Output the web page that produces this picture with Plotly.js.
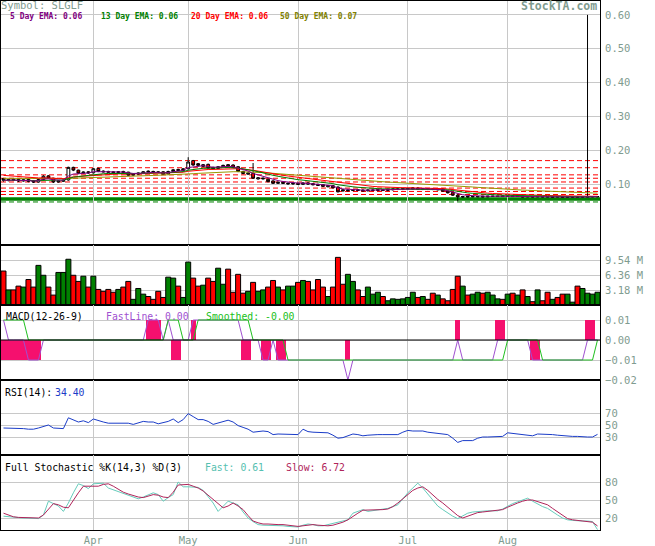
<!DOCTYPE html>
<html><head><meta charset="utf-8">
<script src="https://cdn.plot.ly/plotly-3.0.1.min.js"></script>
<style>body{margin:0;background:#fff}#chart{width:655px;height:546px}</style>
</head><body><div id="chart"></div>
<script>
// ---------- data ----------
const tickPos = [18, 37, 59, 81, 101];
const tickLabels = ['Apr', 'May', 'Jun', 'Jul', 'Aug'];

const open = [.117,.111,.115,.114,.110,.114,.110,.107,.114,.125,
 .118,.107,.109,.113,.150,.142,.133,.137,.134,.147,
 .139,.138,.137,.135,.138,.136,.127,.130,.133,.139,
 .138,.137,.137,.131,.138,.144,.141,.146,.170,.161,
 .153,.159,.150,.147,.152,.158,.157,.152,.138,.130,
 .132,.116,.116,.115,.110,.103,.106,.101,.101,.103,
 .100,.104,.102,.100,.099,.093,.096,.092,.084,.081,
 .082,.084,.083,.081,.082,.082,.084,.082,.084,.085,
 .085,.086,.086,.089,.085,.087,.086,.084,.086,.080,
 .076,.068,.062,.065,.063,.063,.065,.063,.064,.064,
 .066,.064,.066,.064,.065,.063,.064,.063,.064,.064,
 .062,.064,.064,.062,.062,.064,.062,.062,.063,.063];
const high = [.119,.116,.117,.116,.115,.116,.112,.116,.127,.127,
 .119,.112,.114,.152,.152,.143,.138,.139,.148,.149,
 .141,.140,.139,.139,.140,.137,.132,.135,.139,.141,
 .140,.139,.139,.140,.145,.146,.148,.180,.172,.163,
 .160,.161,.152,.154,.158,.160,.159,.154,.140,.135,
 .163,.121,.120,.117,.112,.108,.108,.105,.105,.105,
 .106,.106,.104,.102,.101,.098,.098,.094,.086,.085,
 .086,.086,.085,.085,.085,.086,.086,.087,.088,.088,
 .089,.090,.091,.091,.089,.089,.088,.088,.088,.082,
 .078,.070,.066,.066,.065,.065,.066,.066,.066,.066,
 .067,.066,.067,.066,.066,.065,.065,.065,.065,.065,
 .064,.065,.065,.064,.064,.065,.064,.600,.065,.065];
const low = [.108,.109,.110,.107,.108,.106,.104,.105,.112,.116,
 .104,.105,.107,.111,.139,.130,.131,.131,.132,.136,
 .135,.134,.133,.133,.133,.125,.125,.128,.131,.135,
 .134,.133,.128,.129,.136,.139,.139,.144,.155,.153,
 .151,.146,.144,.145,.150,.152,.148,.136,.130,.128,
 .116,.114,.114,.106,.101,.101,.101,.099,.099,.098,
 .098,.099,.097,.095,.092,.091,.088,.076,.079,.079,
 .080,.080,.079,.079,.080,.080,.080,.080,.082,.083,
 .083,.084,.084,.084,.083,.083,.083,.082,.078,.073,
 .066,.050,.060,.061,.062,.062,.062,.062,.063,.063,
 .063,.063,.063,.063,.062,.062,.062,.062,.062,.062,
 .061,.062,.061,.061,.061,.061,.061,.061,.062,.062];
const close = [.112,.114,.112,.110,.113,.109,.107,.114,.124,.118,
 .107,.110,.112,.150,.142,.133,.136,.134,.146,.138,
 .137,.136,.135,.137,.135,.127,.130,.133,.137,.137,
 .136,.135,.130,.138,.143,.141,.146,.166,.157,.156,
 .158,.148,.146,.152,.156,.154,.150,.138,.132,.133,
 .118,.119,.118,.108,.103,.106,.103,.103,.103,.100,
 .104,.101,.099,.097,.094,.096,.090,.078,.081,.083,
 .084,.082,.081,.083,.083,.084,.082,.085,.086,.086,
 .087,.088,.089,.086,.087,.085,.085,.086,.080,.075,
 .068,.063,.064,.063,.064,.064,.063,.065,.065,.065,
 .064,.065,.064,.065,.063,.064,.063,.064,.063,.063,
 .063,.063,.062,.063,.063,.062,.063,.064,.064,.064];

const ema5 = [.1120,.1127,.1125,.1117,.1121,.1111,.1097,.1111,.1154,.1163,
 .1132,.1121,.1121,.1247,.1305,.1313,.1329,.1333,.1375,.1377,
 .1375,.1370,.1363,.1365,.1360,.1330,.1320,.1323,.1339,.1349,
 .1353,.1352,.1335,.1350,.1377,.1388,.1412,.1495,.1520,.1533,
 .1549,.1526,.1504,.1509,.1526,.1531,.1521,.1474,.1423,.1392,
 .1321,.1277,.1245,.1190,.1137,.1111,.1084,.1066,.1054,.1036,
 .1037,.1028,.1015,.1000,.0980,.0973,.0949,.0893,.0865,.0853,
 .0849,.0839,.0829,.0829,.0829,.0833,.0829,.0836,.0844,.0849,
 .0856,.0864,.0873,.0869,.0869,.0863,.0859,.0859,.0839,.0809,
 .0766,.0721,.0694,.0673,.0662,.0655,.0647,.0648,.0649,.0649,
 .0646,.0647,.0645,.0647,.0641,.0641,.0637,.0638,.0635,.0633,
 .0632,.0631,.0628,.0629,.0629,.0626,.0627,.0631,.0634,.0636];
const ema13 = [.1120,.1123,.1123,.1120,.1121,.1117,.1110,.1114,.1132,.1139,
 .1129,.1125,.1124,.1178,.1213,.1230,.1249,.1262,.1290,.1303,
 .1313,.1320,.1324,.1331,.1334,.1325,.1321,.1322,.1329,.1335,
 .1339,.1341,.1335,.1341,.1354,.1362,.1376,.1417,.1439,.1456,
 .1474,.1475,.1473,.1480,.1491,.1498,.1498,.1481,.1458,.1440,
 .1403,.1373,.1345,.1307,.1267,.1237,.1207,.1182,.1160,.1137,
 .1123,.1107,.1090,.1073,.1054,.1041,.1021,.0987,.0962,.0943,
 .0928,.0913,.0898,.0888,.0880,.0874,.0866,.0864,.0863,.0863,
 .0864,.0866,.0869,.0868,.0868,.0865,.0863,.0863,.0854,.0839,
 .0816,.0789,.0768,.0748,.0733,.0720,.0707,.0699,.0692,.0686,
 .0679,.0675,.0670,.0667,.0662,.0659,.0655,.0653,.0650,.0647,
 .0645,.0643,.0640,.0639,.0638,.0635,.0634,.0635,.0636,.0636];
const ema20 = [.1265,.1253,.1240,.1227,.1218,.1206,.1193,.1188,.1193,.1192,
 .1180,.1172,.1167,.1199,.1220,.1230,.1242,.1251,.1271,.1281,
 .1289,.1296,.1301,.1308,.1312,.1308,.1307,.1309,.1315,.1320,
 .1324,.1326,.1324,.1329,.1339,.1346,.1357,.1386,.1404,.1419,
 .1434,.1438,.1440,.1448,.1459,.1467,.1470,.1461,.1448,.1437,
 .1413,.1392,.1372,.1344,.1314,.1290,.1265,.1243,.1223,.1202,
 .1187,.1170,.1153,.1136,.1117,.1102,.1083,.1054,.1031,.1012,
 .0996,.0979,.0963,.0950,.0939,.0930,.0920,.0913,.0908,.0903,
 .0900,.0898,.0897,.0893,.0891,.0887,.0883,.0881,.0873,.0861,
 .0844,.0824,.0806,.0789,.0775,.0762,.0749,.0740,.0731,.0723,
 .0715,.0709,.0702,.0697,.0691,.0686,.0681,.0677,.0673,.0669,
 .0665,.0662,.0658,.0655,.0653,.0650,.0648,.0647,.0646,.0646];
const ema50 = [.1178,.1177,.1175,.1172,.1170,.1167,.1163,.1162,.1165,.1166,
 .1162,.1160,.1158,.1171,.1181,.1187,.1194,.1200,.1210,.1217,
 .1223,.1228,.1233,.1238,.1242,.1243,.1245,.1248,.1253,.1258,
 .1262,.1266,.1267,.1271,.1277,.1282,.1289,.1304,.1314,.1324,
 .1334,.1340,.1345,.1352,.1360,.1367,.1372,.1372,.1370,.1368,
 .1361,.1354,.1347,.1336,.1324,.1314,.1303,.1292,.1282,.1271,
 .1262,.1252,.1242,.1231,.1220,.1210,.1198,.1182,.1167,.1154,
 .1142,.1129,.1117,.1106,.1095,.1085,.1075,.1066,.1058,.1050,
 .1043,.1037,.1031,.1024,.1018,.1011,.1005,.0999,.0991,.0982,
 .0970,.0957,.0945,.0933,.0922,.0911,.0900,.0890,.0881,.0872,
 .0863,.0855,.0847,.0839,.0831,.0824,.0816,.0809,.0802,.0795,
 .0789,.0783,.0777,.0771,.0765,.0759,.0754,.0750,.0746,.0742];

const redDashLevels = [0.170, 0.149, 0.128, 0.118, 0.107, 0.089, 0.079, 0.070];
const greenSolidLevel = 0.057;
const greenDashLevel = 0.048;

// volume in millions
const volumeM = [7.2,3.2,3.2,4.0,3.8,5.4,3.8,8.4,6.3,3.8,
 2.1,6.9,6.9,9.7,6.3,5.0,6.1,3.8,6.1,3.3,
 2.9,3.3,2.7,3.3,3.8,5.0,1.2,3.5,2.3,1.8,
 1.2,2.9,1.6,5.9,5.7,4.0,1.6,9.1,5.7,4.0,
 4.2,5.7,5.0,7.8,4.4,7.6,2.7,6.5,2.5,2.9,
 4.8,2.9,3.2,3.8,5.2,3.8,3.2,4.0,4.0,4.8,
 5.2,5.0,3.2,5.4,3.8,1.8,3.8,10.1,4.4,6.5,
 5.0,3.2,1.8,3.8,2.3,2.7,1.8,0.9,1.3,1.2,
 1.3,1.6,2.7,1.6,1.8,1.2,2.5,2.1,1.3,0.9,
 3.3,6.1,4.0,2.1,2.3,2.7,2.5,2.7,2.1,1.3,
 1.2,2.3,2.5,2.1,3.2,1.8,0.7,3.2,0.9,2.7,
 1.2,1.6,2.3,2.3,0.6,4.0,3.5,2.5,2.3,2.7];
const volTicks = [3.18, 6.36, 9.54];
const volTickText = ['3.18 M', '6.36 M', '9.54 M'];

const macdFast = [.01,0,0,0,0,-.01,-.01,-.01,0,0,
 0,0,0,0,0,0,0,0,0,0,
 0,0,0,0,0,0,0,0,0,.01,
 .01,.01,0,.01,0,0,0,0,.01,.01,
 .01,.01,.01,.01,.01,.01,.01,.01,0,0,
 0,0,-.01,-.01,0,-.01,-.01,-.01,-.01,-.01,
 -.01,-.01,-.01,-.01,-.01,-.01,-.01,-.01,-.01,-.02,
 -.01,-.01,-.01,-.01,-.01,-.01,-.01,-.01,-.01,-.01,
 -.01,-.01,-.01,-.01,-.01,-.01,-.01,-.01,-.01,-.01,
 -.01,0,-.01,-.01,-.01,-.01,-.01,-.01,-.01,0,
 0,0,0,0,0,0,-.01,-.01,-.01,-.01,
 -.01,-.01,-.01,-.01,-.01,-.01,-.01,0,0,0];
const macdSmooth = [.01,.01,.01,.01,.01,0,0,0,0,0,
 0,0,0,0,0,0,0,0,0,0,
 0,0,0,0,0,0,0,0,0,0,
 0,0,0,.01,.01,.01,0,0,0,.01,
 .01,.01,.01,.01,.01,.01,.01,.01,.01,.01,
 0,0,0,0,0,0,0,-.01,-.01,-.01,
 -.01,-.01,-.01,-.01,-.01,-.01,-.01,-.01,-.01,-.01,
 -.01,-.01,-.01,-.01,-.01,-.01,-.01,-.01,-.01,-.01,
 -.01,-.01,-.01,-.01,-.01,-.01,-.01,-.01,-.01,-.01,
 -.01,-.01,-.01,-.01,-.01,-.01,-.01,-.01,-.01,-.01,
 -.01,0,0,0,0,0,0,0,-.01,-.01,
 -.01,-.01,-.01,-.01,-.01,-.01,-.01,-.01,-.01,0];
const macdHist = [-.01,-.01,-.01,-.01,-.01,-.01,-.01,-.01,0,0,
 0,0,0,0,0,0,0,0,0,0,
 0,0,0,0,0,0,0,0,0,.01,
 .01,.01,0,0,-.01,-.01,0,0,.01,0,
 0,0,0,0,0,0,0,0,-.01,-.01,
 0,0,-.01,-.01,0,-.01,-.01,0,0,0,
 0,0,0,0,0,0,0,0,0,-.01,
 0,0,0,0,0,0,0,0,0,0,
 0,0,0,0,0,0,0,0,0,0,
 0,.01,0,0,0,0,0,0,0,.01,
 .01,0,0,0,0,0,-.01,-.01,0,0,
 0,0,0,0,0,0,0,.01,.01,0];

const rsi = [45,45,45,44,44,43,43,45,48,50,
 45,44,44,62,58,55,57,54,60,57,
 55,53,53,53,54,53,51,53,56,55,
 55,52,54,56,60,54,59,69,64,59,
 59,56,51,53,55,58,55,49,46,43,
 38,39,40,39,34,35,35,35,34,34,
 43,39,38,38,37,37,33,28,29,32,
 35,34,32,33,34,34,34,34,34,34,
 38,41,40,40,40,38,37,36,35,34,
 28,21,24,24,24,28,30,30,30,31,
 31,37,36,36,35,33,32,35,35,34,
 34,33,32,31,31,31,30,30,30,34.4];

const stochK = [23,22,21,20,20,20,19,19,25,48,
 44,40,31,45,62,77,74,69,77,78,
 78,70,67,64,62,59,55,52,55,59,
 62,59,48,54,59,80,72,72,72,71,
 66,55,45,31,40,48,45,42,30,20,
 14,9,8,8,7,7,7,6,6,5,
 8,10,9,7,7,9,10,12,14,17,
 28,31,34,31,32,33,34,36,39,42,
 52,62,70,78,70,60,50,40,34,28,
 23,19,24,28,30,31,31,32,32,32,
 35,40,44,47,50,53,48,43,39,36,
 30,25,20,17,16,15,15,15,14,0.61];
const stochD = [28,25,22,21,21,20,20,20,25,35,
 44,42,38,37,50,62,73,73,73,73,
 76,77,73,68,63,60,57,55,54,56,
 59,58,55,54,63,75,75,76,73,70,
 65,58,51,43,37,40,45,40,34,24,
 15,12,10,10,9,9,9,8,7,6,
 7,8,9,8,7,7,8,10,13,17,
 23,28,33,33,33,33,34,35,39,45,
 52,60,66,70,72,66,58,51,45,38,
 31,24,20,23,27,29,30,31,32,32,
 34,38,42,45,48,50,50,47,44,42,
 36,30,24,19,17,16,15,14,13,6.72];

// ---------- drawing ----------
const idx = close.map((_, i) => i);
const L = 1, R = 600, T = 1, B = 530;
const px = x => (x - L) / (R - L);
const py = y => (B - y) / (B - T);
const FONT = 'DejaVu Sans Mono';
const LBL = '#7f9c90';
const GRID = '#c8c8c8';

const volColors = close.map((c, i) => c >= open[i] ? '#008000' : '#ff0000');

const traces = [
  {type:'scatter', mode:'lines', x: idx, y: ema50, xaxis:'x', yaxis:'y', line:{color:'#999900', width:1}, hoverinfo:'skip'},
  {type:'scatter', mode:'lines', x: idx, y: ema20, xaxis:'x', yaxis:'y', line:{color:'#ff0000', width:1}, hoverinfo:'skip'},
  {type:'scatter', mode:'lines', x: idx, y: ema13, xaxis:'x', yaxis:'y', line:{color:'#008000', width:1}, hoverinfo:'skip'},
  {type:'scatter', mode:'lines', x: idx, y: ema5, xaxis:'x', yaxis:'y', line:{color:'#800080', width:1}, hoverinfo:'skip'},
  {type:'candlestick', x: idx, open: open, high: high, low: low, close: close, xaxis:'x', yaxis:'y',
   increasing:{line:{color:'#000', width:1}, fillcolor:'#ffffff'},
   decreasing:{line:{color:'#000', width:1}, fillcolor:'#ff0000'}, whiskerwidth:0},
  {type:'bar', x: idx, y: volumeM, xaxis:'x2', yaxis:'y2', marker:{color: volColors, line:{color:'#000', width:1}}},
  {type:'bar', x: idx, y: macdHist, xaxis:'x3', yaxis:'y3', marker:{color:'#f5106e', line:{width:0}}},
  {type:'scatter', mode:'lines', x: idx, y: macdFast, xaxis:'x3', yaxis:'y3', line:{color:'#a050d0', width:1}},
  {type:'scatter', mode:'lines', x: idx, y: macdSmooth, xaxis:'x3', yaxis:'y3', line:{color:'#20c020', width:1}},
  {type:'scatter', mode:'lines', x: idx, y: rsi, xaxis:'x4', yaxis:'y4', line:{color:'#1a3cc8', width:1}},
  {type:'scatter', mode:'lines', x: idx, y: stochK, xaxis:'x5', yaxis:'y5', line:{color:'#66ccbb', width:1}},
  {type:'scatter', mode:'lines', x: idx, y: stochD, xaxis:'x5', yaxis:'y5', line:{color:'#b0245a', width:1}}
];

function xax(anchor, labels) {
  return {anchor: anchor, range:[-0.5, 119.5], tickvals: tickPos, ticktext: tickLabels,
    showgrid:true, gridcolor:GRID, gridwidth:1, showline:true, mirror:true, linecolor:'#000', linewidth:1,
    zeroline:false, ticks:'', showticklabels: labels, fixedrange:true,
    tickfont:{family:FONT, size:10.5, color:LBL}, rangeslider:{visible:false}};
}
function yax(dom, range, tv, tt) {
  const a = {domain: dom, range: range, side:'right', tickvals: tv, showgrid:true, gridcolor:GRID, gridwidth:1,
    showline:true, mirror:true, linecolor:'#000', linewidth:1, zeroline:false, ticks:'', ticklabelstandoff:2,
    tickfont:{family:FONT, size:10.5, color:LBL}, fixedrange:true};
  if (tt) a.ticktext = tt;
  return a;
}

const shapes = [];
redDashLevels.forEach(v => shapes.push({type:'line', xref:'paper', x0:0, x1:1, yref:'y', y0:v, y1:v,
  line:{color:'#ff0000', width:1, dash:'5px,3px'}, layer:'between'}));
shapes.push({type:'line', xref:'paper', x0:0, x1:1, yref:'y', y0:greenSolidLevel, y1:greenSolidLevel,
  line:{color:'#008000', width:3.5}, layer:'between'});
shapes.push({type:'line', xref:'paper', x0:0, x1:1, yref:'y', y0:greenDashLevel, y1:greenDashLevel,
  line:{color:'#008000', width:1, dash:'5px,3px'}, layer:'between'});
shapes.push({type:'line', xref:'paper', x0:0, x1:1, yref:'y3', y0:0, y1:0,
  line:{color:'#000', width:1}, layer:'above'});

function ann(text, x, y, color, size, bold) {
  return {text: bold ? '<b>' + text + '</b>' : text, xref:'paper', yref:'paper', x: px(x), y: py(y),
    xanchor:'left', yanchor:'middle', showarrow:false, borderpad:0,
    font:{family:FONT, size:size, color:color}};
}
const annotations = [
  ann('Symbol: SLGLF', 0, 5.5, LBL, 10.5, false),
  {text:'<b>StockTA.com</b>', xref:'paper', yref:'paper', x: px(598), y: py(6.5), xanchor:'right', yanchor:'middle',
   showarrow:false, borderpad:0, font:{family:FONT, size:11.5, color:LBL}},
  ann('5 Day EMA: 0.06', 9, 16.5, '#800080', 8, true),
  ann('13 Day EMA: 0.06', 100, 16.5, '#008000', 8, true),
  ann('20 Day EMA: 0.06', 190, 16.5, '#ff0000', 8, true),
  ann('50 Day EMA: 0.07', 279, 16.5, '#808000', 8, true),
  ann('MACD(12-26-9)', 5, 317, '#000', 9.8, false),
  ann('FastLine: 0.00', 105, 317, '#a050d0', 9.8, false),
  ann('Smoothed: -0.00', 205, 317, '#20c020', 9.8, false),
  ann('RSI(14):', 4, 392, '#000', 9.8, false),
  ann('34.40', 54, 392, '#1a3cc8', 9.8, false),
  ann('Full Stochastic %K(14,3) %D(3)', 4, 467, '#000', 9.8, false),
  ann('Fast: 0.61', 204, 467, '#55c0b0', 9.8, false),
  ann('Slow: 6.72', 285, 467, '#b0245a', 9.8, false)
];

const layout = {
  width:655, height:546, margin:{l:L, r:655 - R, t:T, b:546 - B}, paper_bgcolor:'#fff', plot_bgcolor:'#fff',
  showlegend:false, bargap:0, boxgap:0.2, hovermode:false, dragmode:false,
  xaxis: xax('y', false), xaxis2: Object.assign(xax('y2', false), {matches:'x'}),
  xaxis3: Object.assign(xax('y3', false), {matches:'x'}), xaxis4: Object.assign(xax('y4', false), {matches:'x'}),
  xaxis5: Object.assign(xax('y5', true), {matches:'x'}),
  yaxis: yax([py(245), 1], [-0.079, 0.641], [0.1, 0.2, 0.3, 0.4, 0.5, 0.6], ['0.10','0.20','0.30','0.40','0.50','0.60']),
  yaxis2: yax([py(305), py(245)], [0, 12.72], volTicks, volTickText),
  yaxis3: yax([py(380), py(305)], [-0.02, 0.0175], [-0.02, -0.01, 0, 0.01], ['\u22120.02', '\u22120.01', '0.00', '0.01']),
  yaxis4: yax([py(455), py(380)], [0, 125], [30, 50, 70]),
  yaxis5: yax([0, py(455)], [0, 125], [20, 50, 80]),
  shapes: shapes, annotations: annotations
};

Plotly.newPlot('chart', traces, layout, {staticPlot:true, displayModeBar:false});
</script></body></html>
